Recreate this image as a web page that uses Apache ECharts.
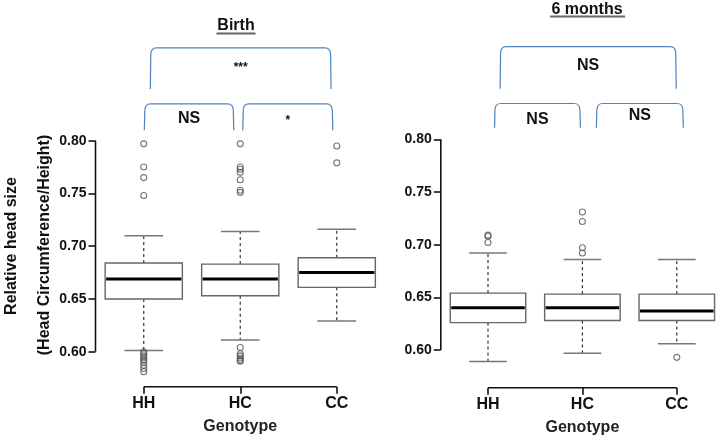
<!DOCTYPE html>
<html><head><meta charset="utf-8">
<script src="https://cdn.jsdelivr.net/npm/echarts@6/dist/echarts.min.js"></script>
<style>html,body{margin:0;padding:0;background:#fff}#c{width:724px;height:442px}</style>
</head><body><div id="c"></div>
<script>
// ---------- data ----------
const categories = ['HH', 'HC', 'CC'];
const yTicks = [0.60, 0.65, 0.70, 0.75, 0.80];
const xAxisTitle = 'Genotype';
const yTitleLine1 = 'Relative head size';
const yTitleLine2 = '(Head Circumference/Height)';
const birthTitle = 'Birth';
const sixTitle = '6 months';

// [lower whisker, Q1, median, Q3, upper whisker]
const birthHH = [0.601, 0.650, 0.669, 0.684, 0.710];
const birthHC = [0.611, 0.653, 0.669, 0.683, 0.714];
const birthCC = [0.629, 0.661, 0.675, 0.689, 0.716];
const birthOutHH = [0.797, 0.775, 0.765, 0.748, 0.600, 0.598, 0.596, 0.594, 0.592, 0.590, 0.587, 0.584, 0.581];
const birthOutHC = [0.797, 0.775, 0.773, 0.770, 0.763, 0.753, 0.751, 0.604, 0.598, 0.596, 0.594, 0.592, 0.591];
const birthOutCC = [0.795, 0.779];

const sixHH = [0.589, 0.626, 0.640, 0.654, 0.692];
const sixHC = [0.597, 0.628, 0.640, 0.653, 0.686];
const sixCC = [0.606, 0.628, 0.637, 0.653, 0.686];
const sixOutHH = [0.709, 0.708, 0.702];
const sixOutHC = [0.731, 0.722, 0.697, 0.692];
const sixOutCC = [0.593];

// significance labels: [HH vs CC, HH vs HC, HC vs CC]
const birthSig = ['***', 'NS', '*'];
const sixSig = ['NS', 'NS', 'NS'];

// ---------- chart ----------
const FONT = 'Liberation Sans, Arial, Helvetica, sans-serif';
const chart = echarts.init(document.getElementById('c'), null, {renderer: 'canvas'});

function boxData(stats) { return stats.map((s, i) => [i].concat(s)); }
function outData(outs) { const r = []; outs.forEach((arr, i) => arr.forEach(v => r.push([i, v]))); return r; }

function renderBox(params, api) {
  const ci = api.value(0);
  const band = api.size([1, 0])[0];
  const x = api.coord([ci, api.value(3)])[0];
  const yLo = api.coord([ci, api.value(1)])[1];
  const yQ1 = api.coord([ci, api.value(2)])[1];
  const yMed = api.coord([ci, api.value(3)])[1];
  const yQ3 = api.coord([ci, api.value(4)])[1];
  const yHi = api.coord([ci, api.value(5)])[1];
  const bw = band * 0.8, cw = band * 0.4;
  const dash = {stroke: '#333', lineWidth: 1.2, lineDash: [3, 3]};
  const cap = {stroke: '#777', lineWidth: 1.5};
  return {type: 'group', children: [
    {type: 'line', shape: {x1: x, y1: yQ3, x2: x, y2: yHi}, style: dash},
    {type: 'line', shape: {x1: x, y1: yQ1, x2: x, y2: yLo}, style: dash},
    {type: 'line', shape: {x1: x - cw / 2, y1: yHi, x2: x + cw / 2, y2: yHi}, style: cap},
    {type: 'line', shape: {x1: x - cw / 2, y1: yLo, x2: x + cw / 2, y2: yLo}, style: cap},
    {type: 'rect', shape: {x: x - bw / 2, y: yQ3, width: bw, height: yQ1 - yQ3},
      style: {fill: '#fff', stroke: '#666', lineWidth: 1.4}},
    {type: 'line', shape: {x1: x - bw / 2 + 1, y1: yMed, x2: x + bw / 2 - 1, y2: yMed},
      style: {stroke: '#000', lineWidth: 3}}
  ]};
}

function renderAxes(params, api) {
  const cs = params.coordSys;
  const yTop = api.coord([0, yTicks[yTicks.length - 1]])[1];
  const yBot = api.coord([0, yTicks[0]])[1];
  const xA = api.coord([0, yTicks[0]])[0];
  const xB = api.coord([categories.length - 1, yTicks[0]])[0];
  const st = {stroke: '#111', lineWidth: 1.6};
  return {type: 'group', children: [
    {type: 'line', shape: {x1: cs.x, y1: yTop, x2: cs.x, y2: yBot}, style: st},
    {type: 'line', shape: {x1: xA, y1: cs.y + cs.height, x2: xB, y2: cs.y + cs.height}, style: st}
  ]};
}

const grids = [
  {left: 95.5, width: 289.5, top: 140.7, height: 246},
  {left: 440.8, width: 291, top: 139.3, height: 248.4}
];
const yMins = [0.5668, 0.5642];

function xAxisFor(g) {
  return {
    type: 'category', gridIndex: g, data: categories, boundaryGap: true,
    axisLine: {show: false},
    axisTick: {show: true, alignWithLabel: true, length: 7, lineStyle: {color: '#111', width: 1.6}},
    axisLabel: {fontSize: 16, fontWeight: 'bold', color: '#111', fontFamily: FONT, margin: 9},
    name: xAxisTitle, nameLocation: 'middle', nameGap: 32,
    nameTextStyle: {fontSize: 16, fontWeight: 'bold', color: '#222', fontFamily: FONT},
    splitLine: {show: false}
  };
}
function yAxisFor(g) {
  return {
    type: 'value', gridIndex: g, min: yMins[g], max: yTicks[yTicks.length - 1],
    axisLine: {show: false},
    axisTick: {show: true, length: 7, customValues: yTicks, lineStyle: {color: '#111', width: 1.6}},
    axisLabel: {customValues: yTicks, fontSize: 14, fontWeight: 'bold', color: '#111', fontFamily: FONT,
      margin: 9, formatter: v => Number(v).toFixed(2)},
    splitLine: {show: false}
  };
}

const boxStyleSeries = (g, stats) => ({
  type: 'custom', xAxisIndex: g, yAxisIndex: g, data: boxData(stats),
  encode: {x: 0, y: [1, 2, 3, 4, 5]}, renderItem: renderBox, z: 2, silent: true
});
const outSeries = (g, outs) => ({
  type: 'scatter', xAxisIndex: g, yAxisIndex: g, data: outData(outs),
  symbol: 'circle', symbolSize: 6,
  itemStyle: {color: 'rgba(255,255,255,0)', borderColor: '#555', borderWidth: 1.1},
  z: 3, silent: true
});
const axisSeries = (g) => ({
  type: 'custom', xAxisIndex: g, yAxisIndex: g, data: [[0, yTicks[0]]],
  encode: {x: 0, y: 1}, renderItem: renderAxes, clip: false, z: 4, silent: true
});

chart.setOption({
  animation: false,
  backgroundColor: '#fff',
  grid: grids,
  xAxis: [xAxisFor(0), xAxisFor(1)],
  yAxis: [yAxisFor(0), yAxisFor(1)],
  series: [
    boxStyleSeries(0, [birthHH, birthHC, birthCC]),
    outSeries(0, [birthOutHH, birthOutHC, birthOutCC]),
    axisSeries(0),
    boxStyleSeries(1, [sixHH, sixHC, sixCC]),
    outSeries(1, [sixOutHH, sixOutHC, sixOutCC]),
    axisSeries(1)
  ]
});

// ---------- annotations (brackets placed through the axes' own scales) ----------
function px(g, catPos, val) {
  const p0 = chart.convertToPixel({xAxisIndex: g, yAxisIndex: g}, [0, val]);
  const p1 = chart.convertToPixel({xAxisIndex: g, yAxisIndex: g}, [1, val]);
  return [p0[0] + catPos * (p1[0] - p0[0]), p0[1]];
}
const BR = {stroke: '#4f81bd', lineWidth: 1.2, fill: null};
function bracket(g, from, to, top, bottom, label, labelY, fontSize) {
  const a = px(g, from, top), b = px(g, to, top);
  const yb = px(g, from, bottom)[1];
  const r = 6;
  const els = [
    {type: 'line', shape: {x1: a[0], y1: yb, x2: a[0] + 0.5, y2: a[1] + r}, style: BR, silent: true},
    {type: 'bezierCurve', shape: {x1: a[0] + 0.5, y1: a[1] + r, cpx1: a[0] + 1, cpy1: a[1], x2: a[0] + r, y2: a[1]}, style: BR, silent: true},
    {type: 'line', shape: {x1: a[0] + r, y1: a[1], x2: b[0] - r, y2: b[1]}, style: BR, silent: true},
    {type: 'bezierCurve', shape: {x1: b[0] - r, y1: b[1], cpx1: b[0] - 1, cpy1: b[1], x2: b[0] - 0.5, y2: b[1] + r}, style: BR, silent: true},
    {type: 'line', shape: {x1: b[0] - 0.5, y1: b[1] + r, x2: b[0], y2: yb}, style: BR, silent: true}
  ];
  const lp = px(g, (from + to) / 2, labelY);
  els.push({type: 'text', x: lp[0], y: lp[1], silent: true,
    style: {text: label, font: `bold ${fontSize}px ${FONT}`, fill: '#111', textAlign: 'center', textVerticalAlign: 'middle'}});
  return els;
}
const sigSize = s => (s.indexOf('*') >= 0 ? 12 : 16);
const sigY = (s, y) => (s.indexOf('*') >= 0 ? y - 0.003 : y);

let graphics = [];
// Birth panel
graphics = graphics.concat(
  bracket(0, 0.068, 1.941, 0.888, 0.849, birthSig[0], sigY(birthSig[0], 0.872), sigSize(birthSig[0])),
  bracket(0, 0.006, 0.933, 0.835, 0.810, birthSig[1], sigY(birthSig[1], 0.8206), sigSize(birthSig[1])),
  bracket(0, 1.026, 1.959, 0.835, 0.810, birthSig[2], sigY(birthSig[2], 0.8215), sigSize(birthSig[2]))
);
// 6 months panel
graphics = graphics.concat(
  bracket(1, 0.128, 1.994, 0.888, 0.848, sixSig[0], sigY(sixSig[0], 0.870), sigSize(sixSig[0])),
  bracket(1, 0.069, 0.979, 0.834, 0.811, sixSig[1], sigY(sixSig[1], 0.819), sigSize(sixSig[1])),
  bracket(1, 1.148, 2.069, 0.834, 0.811, sixSig[2], sigY(sixSig[2], 0.8224), sigSize(sixSig[2]))
);
// panel titles (underlined)
function titleEl(text, cx, cy, ux1, ux2, uy) {
  return [
    {type: 'text', x: cx, y: cy, silent: true,
      style: {text: text, font: `bold 16px ${FONT}`, fill: '#111', textAlign: 'center', textVerticalAlign: 'middle'}},
    {type: 'line', shape: {x1: ux1, y1: uy, x2: ux2, y2: uy}, style: {stroke: '#666', lineWidth: 2}, silent: true}
  ];
}
graphics = graphics.concat(titleEl(birthTitle, 236, 26, 216.5, 255.5, 33.5));
graphics = graphics.concat(titleEl(sixTitle, 587, 9.5, 550, 625, 16.5));
// y-axis title (two lines, rotated)
graphics.push({type: 'text', x: 12, y: 246, rotation: Math.PI / 2, silent: true,
  style: {text: yTitleLine1, font: `bold 16px ${FONT}`, fill: '#111', textAlign: 'center', textVerticalAlign: 'middle'}});
graphics.push({type: 'text', x: 45, y: 245, rotation: Math.PI / 2, silent: true,
  style: {text: yTitleLine2, font: `bold 16px ${FONT}`, fill: '#111', textAlign: 'center', textVerticalAlign: 'middle'}});

chart.setOption({graphic: graphics});
</script>
</body></html>
